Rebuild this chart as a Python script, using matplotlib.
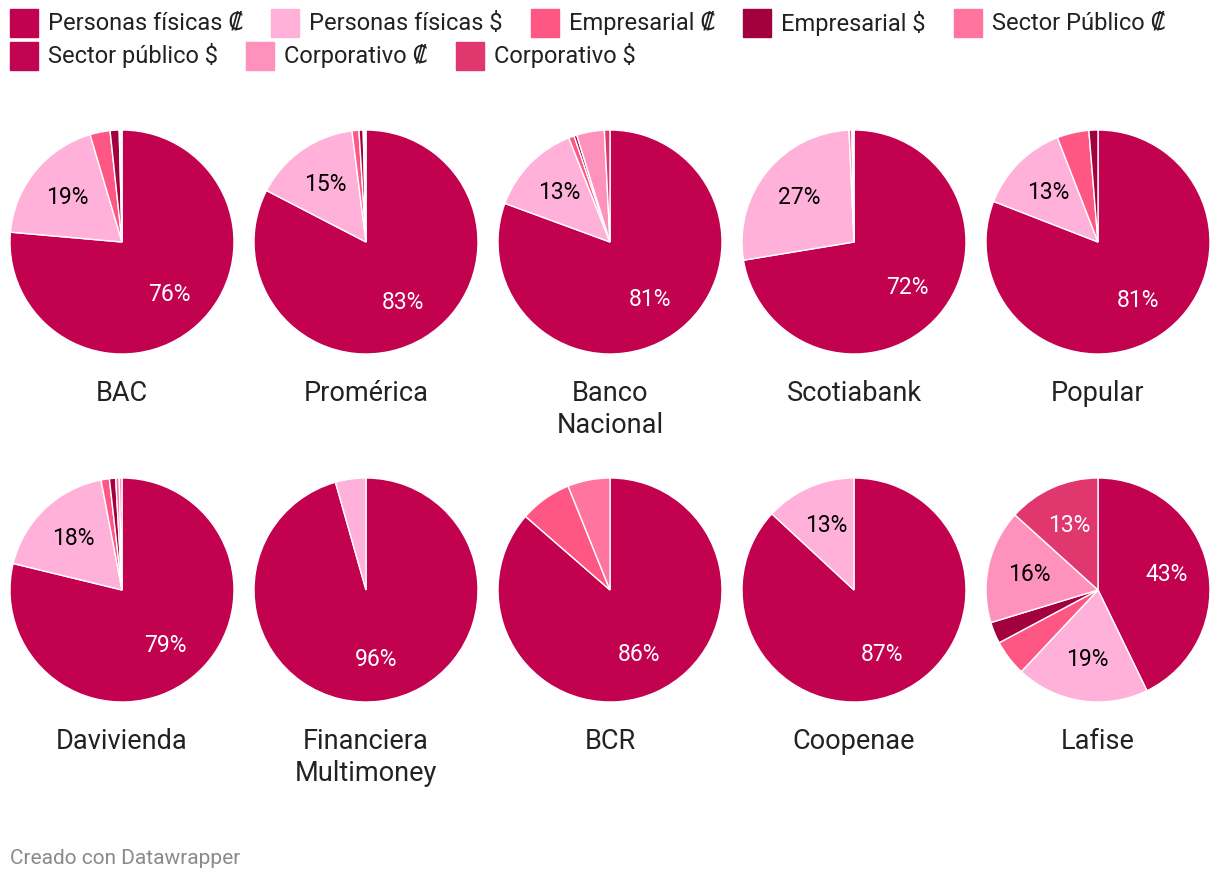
import matplotlib
matplotlib.use("Agg")
import matplotlib.pyplot as plt
from matplotlib.patches import Rectangle

FAM = ["Roboto", "DejaVu Sans"]
plt.rcParams["font.family"] = FAM

categories = ["Personas físicas ₡", "Personas físicas $", "Empresarial ₡", "Empresarial $",
              "Sector Público ₡", "Sector público $", "Corporativo ₡", "Corporativo $"]
colors = ["#c2024f", "#ffb1d9", "#ff5784", "#a3003f", "#ff75a0", "#c1044f", "#ff92bc", "#e0376f"]
label_colors = ["white", "black", "white", "white", "white", "white", "black", "white"]

banks = ["BAC", "Promérica", "Banco\nNacional", "Scotiabank", "Popular",
         "Davivienda", "Financiera\nMultimoney", "BCR", "Coopenae", "Lafise"]
pf_col   = [76.4, 82.6, 80.6, 72.4, 80.9, 78.8, 95.6, 86.4, 86.9, 42.8]
pf_usd   = [19.0, 15.4, 13.4, 26.9, 13.2, 18.2, 4.4, 0.0, 13.1, 19.2]
emp_col  = [2.9, 1.0, 0.8, 0.4, 4.6, 1.2, 0.0, 7.5, 0.0, 5.2]
emp_usd  = [1.3, 0.6, 0.4, 0.1, 1.3, 0.9, 0.0, 0.0, 0.0, 3.1]
sp_col   = [0.2, 0.2, 0.0, 0.2, 0.0, 0.5, 0.0, 6.1, 0.0, 0.0]
sp_usd   = [0.2, 0.0, 0.0, 0.0, 0.0, 0.0, 0.0, 0.0, 0.0, 0.0]
corp_col = [0.0, 0.2, 4.0, 0.0, 0.0, 0.4, 0.0, 0.0, 0.0, 16.4]
corp_usd = [0.0, 0.0, 0.8, 0.0, 0.0, 0.0, 0.0, 0.0, 0.0, 13.3]

series = [pf_col, pf_usd, emp_col, emp_usd, sp_col, sp_usd, corp_col, corp_usd]

W, H = 1220, 882
fig = plt.figure(figsize=(W / 100, H / 100), dpi=100)
fig.patch.set_facecolor("white")

R = 112
x0, dx = 122, 244
ys = [242, 590]

for i, bank in enumerate(banks):
    row, col = divmod(i, 5)
    cx = x0 + col * dx
    cy = ys[row]
    ax = fig.add_axes([(cx - R) / W, 1 - (cy + R) / H, 2 * R / W, 2 * R / H])
    vals = [s[i] for s in series]
    idx = [k for k, v in enumerate(vals) if v > 0]
    v = [vals[k] for k in idx]
    c = [colors[k] for k in idx]
    wedges, texts, autotexts = ax.pie(
        v, colors=c, startangle=90, counterclock=False, radius=1,
        wedgeprops=dict(edgecolor="white", linewidth=1),
        autopct=lambda p: f"{p:.0f}%" if p >= 10 else "",
        pctdistance=0.63, textprops=dict(fontsize=16.5, family=FAM))
    for t, k in zip(autotexts, idx):
        t.set_color(label_colors[k])
    ax.set_xlim(-1.0, 1.0)
    ax.set_ylim(-1.0, 1.0)
    ax.set_aspect("equal")
    ax.axis("off")
    for j, line in enumerate(bank.split("\n")):
        fig.text(cx / W, 1 - (cy + 159 + 32 * j) / H, line, ha="center", va="baseline",
                 fontsize=19.5, color="#222222")

# legend (flow layout)
renderer = fig.canvas.get_renderer()
lx, ly = 10, 23
sq = 28
for k, cat in enumerate(categories):
    t = fig.text(0, 0, cat, fontsize=17, color="#222222", va="center", ha="left")
    tw = t.get_window_extent(renderer=renderer).width
    if lx + sq + 10 + tw > W - 10:
        lx = 10
        ly += 33
    fig.patches.append(Rectangle(((lx) / W, 1 - (ly + sq / 2) / H), sq / W, sq / H,
                                 transform=fig.transFigure, color=colors[k], figure=fig))
    t.set_position(((lx + sq + 10) / W, 1 - ly / H))
    lx += sq + 10 + tw + 28

fig.text(10 / W, 1 - 858 / H, "Creado con Datawrapper", fontsize=15, color="#8a8a8a",
         va="center", ha="left")

fig.savefig("out.png", dpi=100)
